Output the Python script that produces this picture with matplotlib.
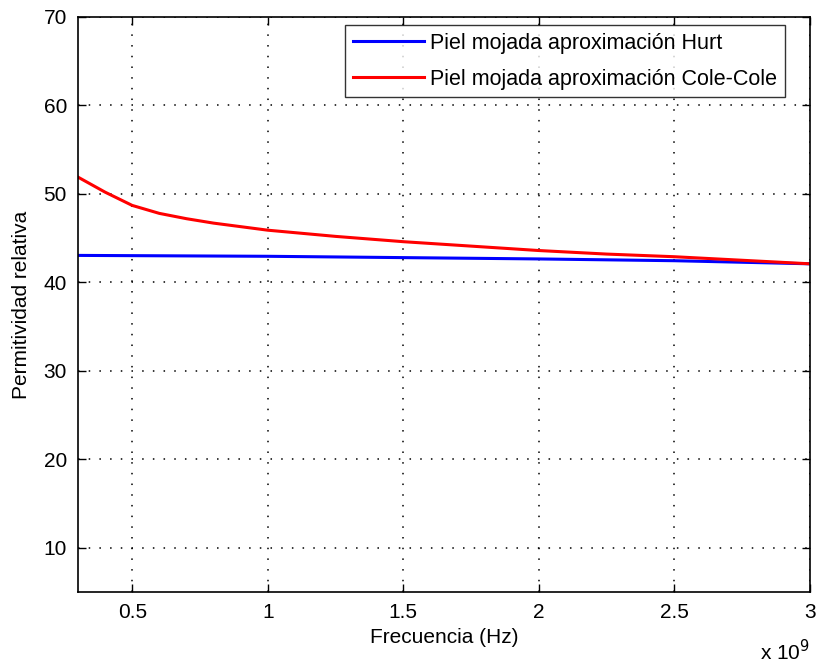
import matplotlib
matplotlib.use("Agg")
import matplotlib.pyplot as plt
import numpy as np

plt.rcParams['font.family'] = ['Liberation Sans', 'DejaVu Sans']

freq_cole = np.array([0.3, 0.4, 0.5, 0.6, 0.7, 0.8, 0.9, 1.0, 1.25, 1.5, 1.75, 2.0, 2.25, 2.5, 2.75, 3.0]) * 1e9
perm_cole = [51.9, 50.2, 48.7, 47.8, 47.2, 46.7, 46.3, 45.9, 45.2, 44.6, 44.1, 43.6, 43.2, 42.9, 42.5, 42.1]
freq_hurt = np.array([0.3, 1.0, 1.5, 2.0, 2.5, 3.0]) * 1e9
perm_hurt = [43.05, 42.95, 42.8, 42.65, 42.45, 42.1]

xticks = [0.5e9, 1e9, 1.5e9, 2e9, 2.5e9, 3e9]
xticklabels = ['0.5', '1', '1.5', '2', '2.5', '3']
yticks = [10, 20, 30, 40, 50, 60, 70]

fig = plt.figure(figsize=(8.19, 6.66), dpi=100)
ax = fig.add_axes([78/819, 1-592/666, (810-78)/819, (592-17)/666])

ax.plot(freq_hurt, perm_hurt, color='#0000ff', lw=2.2, label='Piel mojada aproximación Hurt')
ax.plot(freq_cole, perm_cole, color='#ff0000', lw=2.2, label='Piel mojada aproximación Cole-Cole')

ax.set_xlim(0.3e9, 3e9)
ax.set_ylim(5, 70)
ax.set_xticks(xticks)
ax.set_xticklabels(xticklabels)
ax.set_yticks(yticks)
ax.tick_params(direction='in', top=True, right=True, labelsize=15, length=6, width=1, pad=8, colors='black')
for s in ax.spines.values():
    s.set_linewidth(1.2)
ax.grid(True, color='black', linestyle=(0, (1, 6)), linewidth=1.1)

ax.set_xlabel('Frecuencia (Hz)', fontsize=15, labelpad=4)
ax.set_ylabel('Permitividad relativa', fontsize=15, labelpad=9)

fig.text(760/819, 1-652/666, r'x 10$^{9}$', fontsize=15, ha='left', va='center')

leg = ax.legend(loc='upper right', bbox_to_anchor=(785/819, 1-25/666),
                bbox_transform=fig.transFigure, fontsize=15.5, frameon=True, fancybox=False,
                edgecolor='black', handlelength=3.3, borderpad=0.35,
                labelspacing=0.7, handletextpad=0.3, borderaxespad=0)
leg.get_frame().set_linewidth(1.0)

fig.savefig('out.png', dpi=100)
